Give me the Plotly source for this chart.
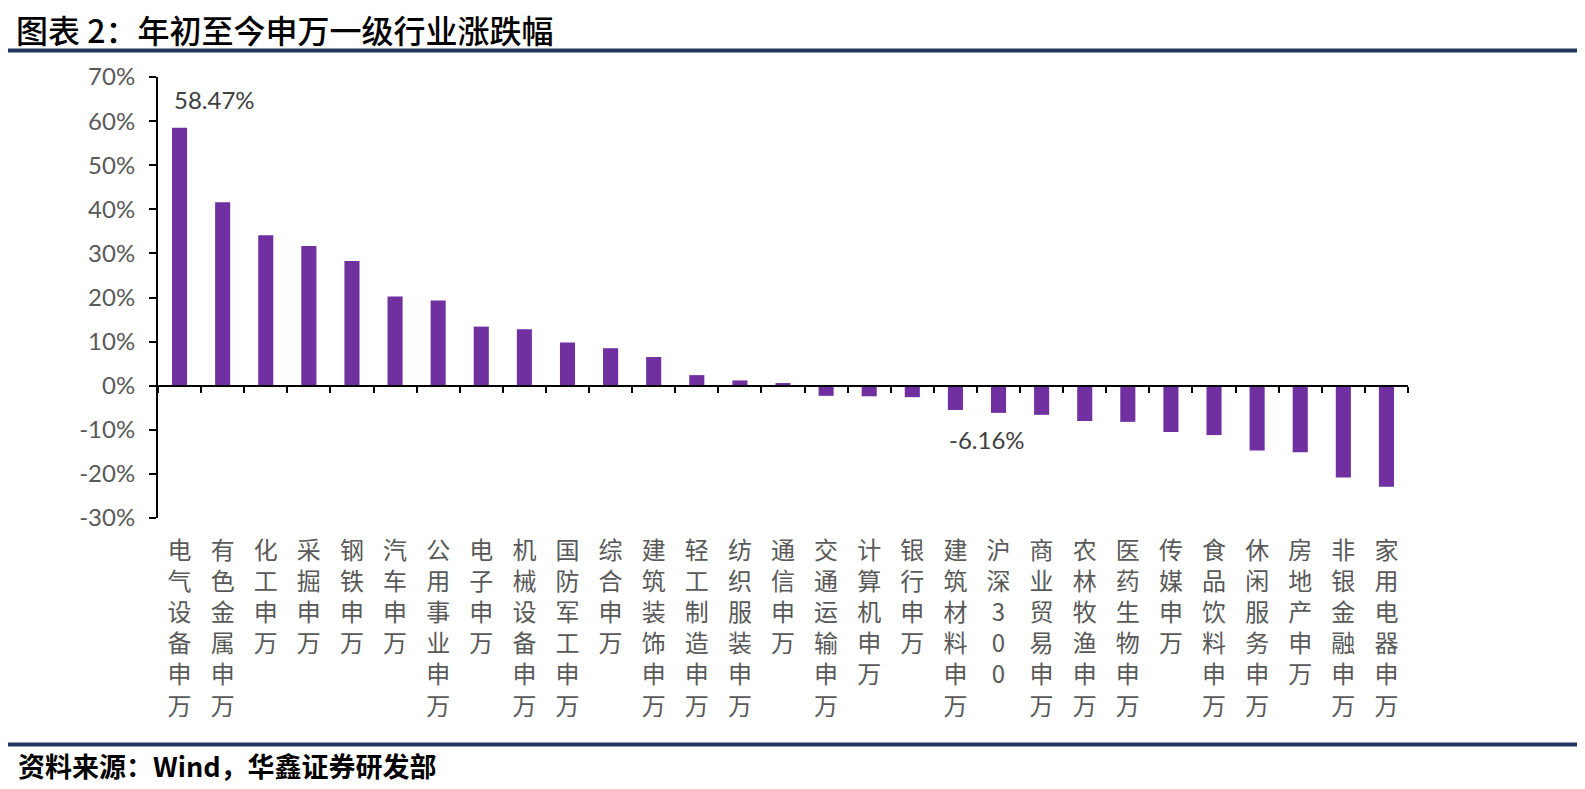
import plotly.graph_objects as go

categories = ["电气设备(申万)", "有色金属(申万)", "化工(申万)", "采掘(申万)", "钢铁(申万)",
              "汽车(申万)", "公用事业(申万)", "电子(申万)", "机械设备(申万)", "国防军工(申万)",
              "综合(申万)", "建筑装饰(申万)", "轻工制造(申万)", "纺织服装(申万)", "通信(申万)",
              "交通运输(申万)", "计算机(申万)", "银行(申万)", "建筑材料(申万)", "沪深300",
              "商业贸易(申万)", "农林牧渔(申万)", "医药生物(申万)", "传媒(申万)", "食品饮料(申万)",
              "休闲服务(申万)", "房地产(申万)", "非银金融(申万)", "家用电器(申万)"]
values = [58.47, 41.6, 34.1, 31.7, 28.3,
          20.2, 19.3, 13.4, 12.8, 9.8,
          8.5, 6.5, 2.4, 1.2, 0.6,
          -2.3, -2.4, -2.6, -5.5, -6.16,
          -6.6, -8.0, -8.2, -10.5, -11.2,
          -14.7, -15.1, -20.8, -22.9]
ytick_vals = [-30, -20, -10, 0, 10, 20, 30, 40, 50, 60, 70]
ytick_text = [f"{v}%" for v in ytick_vals]
labelled = {"电气设备(申万)": (35, 28), "沪深300": (-12, -27)}

title_text = "图表 2：年初至今申万一级行业涨跌幅"
source_text = "资料来源：Wind，华鑫证券研发部"

# page has an 8px body margin; work in page pixels and convert
OFF = 8
PAGE_W, PAGE_H = 1585, 789
W, H = PAGE_W - OFF, PAGE_H - OFF
PLOT_L, PLOT_R, PLOT_T, PLOT_B = 158, 1408, 77, 518   # page pixels
ML, MR = PLOT_L - OFF, W - (PLOT_R - OFF)
MT, MB = PLOT_T - OFF, H - (PLOT_B - OFF)
PW, PH = PLOT_R - PLOT_L, PLOT_B - PLOT_T


def px_x(px):
    return (px - PLOT_L) / PW


def px_y(py):
    return (PLOT_B - py) / PH


def stack(label):
    s = label.replace("(", "").replace(")", "")
    return "<br>".join(list(s))


ticktext = [stack(c) for c in categories]

fig = go.Figure()
fig.add_trace(go.Bar(
    x=categories, y=values,
    marker=dict(color="#7030A0", line=dict(width=0)),
    width=0.35,
    hoverinfo="x+y",
))

ann = []
for c, v in zip(categories, values):
    if c in labelled:
        xs, ys = labelled[c]
        ann.append(dict(x=c, y=v, xref="x", yref="y", text=f"{v:.2f}%",
                        showarrow=False, xshift=xs, yshift=ys,
                        font=dict(family="Lato, Open Sans, sans-serif", size=24, color="#404040")))

ann.append(dict(x=px_x(15), y=px_y(29), xref="paper", yref="paper", text=title_text,
                showarrow=False, xanchor="left", yanchor="middle", borderpad=0,
                font=dict(family="Noto Sans CJK SC", size=32, color="#000000", weight=500)))
ann.append(dict(x=px_x(16), y=px_y(765), xref="paper", yref="paper", text=f"<b>{source_text}</b>",
                showarrow=False, xanchor="left", yanchor="middle",
                font=dict(family="Noto Sans CJK SC", size=27, color="#000000")))

shapes = [
    dict(type="line", xref="paper", yref="paper", x0=px_x(8), x1=px_x(1600), y0=px_y(50.5), y1=px_y(50.5),
         line=dict(color="#24365E", width=4)),
    dict(type="line", xref="paper", yref="paper", x0=px_x(8), x1=px_x(1600), y0=px_y(744.5), y1=px_y(744.5),
         line=dict(color="#24365E", width=4)),
]

fig.update_layout(
    width=W, height=H,
    margin=dict(l=ML, r=MR, t=MT, b=MB, pad=0),
    paper_bgcolor="white", plot_bgcolor="white",
    showlegend=False,
    annotations=ann, shapes=shapes,
    xaxis=dict(
        type="category", categoryorder="array", categoryarray=categories,
        tickmode="array", tickvals=categories, ticktext=ticktext,
        anchor="free", position=(0 - (-30)) / 100,
        showline=True, linecolor="#000000", linewidth=2,
        ticks="outside", tickson="boundaries", ticklen=6, tickwidth=2, tickcolor="#000000",
        ticklabelstandoff=143,
        tickfont=dict(family="Noto Sans CJK SC", size=24, color="#595959"),
        showgrid=False, zeroline=False,
    ),
    yaxis=dict(
        range=[-30, 70], tickmode="array", tickvals=ytick_vals, ticktext=ytick_text,
        showline=True, linecolor="#000000", linewidth=2,
        ticks="outside", ticklen=7, tickwidth=2, tickcolor="#000000",
        ticklabelstandoff=9,
        tickfont=dict(family="Lato, Open Sans, sans-serif", size=24, color="#595959"),
        showgrid=False, zeroline=False,
    ),
)

fig.write_html("out.html")
